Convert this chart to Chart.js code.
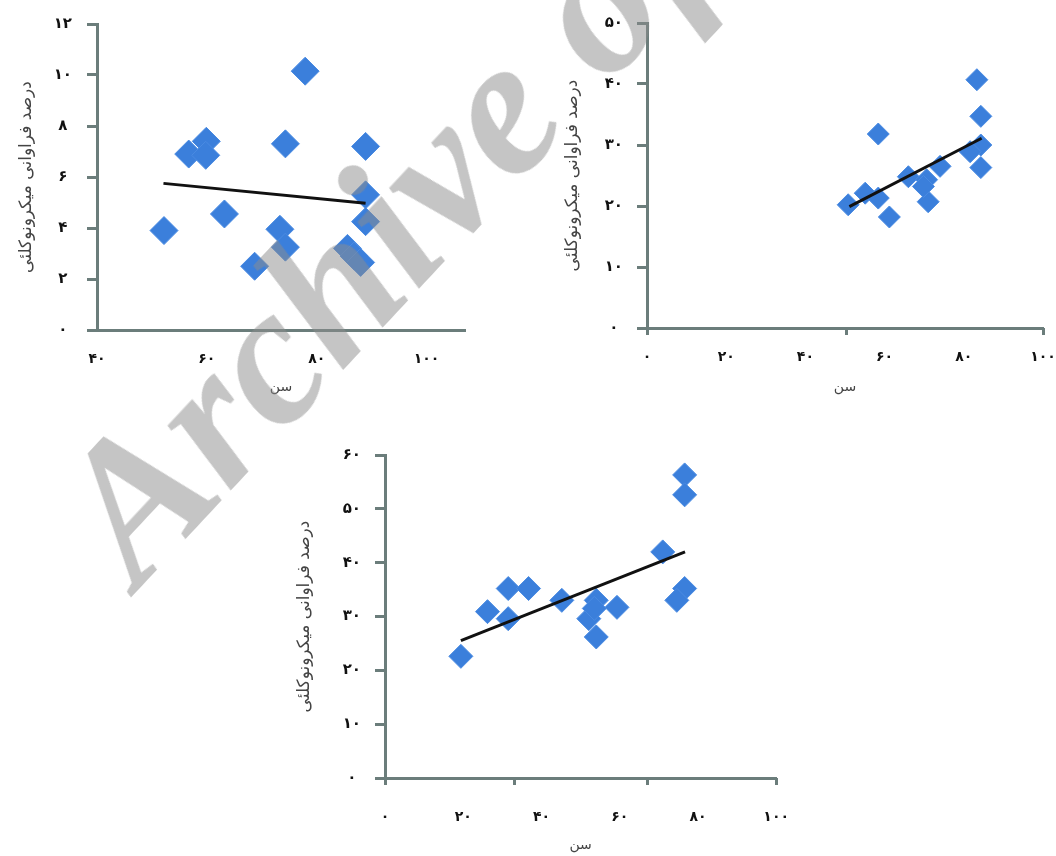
<!DOCTYPE html>
<html>
<head>
<meta charset="utf-8">
<script src="https://cdn.jsdelivr.net/npm/chart.js@4.4.1/dist/chart.umd.min.js"></script>
<style>
html, body { margin: 0; padding: 0; background: #fff; width: 1056px; height: 856px; overflow: hidden; position: relative; }
canvas { position: absolute; }
#wm {
    position: absolute; left: 138px; top: 425px;
    font: italic bold 198px 'Liberation Serif', serif; line-height: 198px;
    color: rgba(140, 140, 140, 0.5); white-space: nowrap;
    transform-origin: 0 165px; transform: rotate(-47deg);
    pointer-events: none;
}
</style>
</head>
<body>
<canvas id="chartA" width="480" height="400" style="left:0;top:0;width:480px;height:400px"></canvas>
<canvas id="chartB" width="540" height="400" style="left:540px;top:0;width:540px;height:400px"></canvas>
<canvas id="chartC" width="540" height="426" style="left:280px;top:430px;width:540px;height:426px"></canvas>
<div id="wm">Archive of SID</div>
<script>
// Titres des axes
const yTitle = 'درصد فراوانی میکرونوکلئی';
const xTitle = 'سن';
const faDigits = ['۰', '۱', '۲', '۳', '۴', '۵', '۶', '۷', '۸', '۹'];

// Graphique A (haut gauche)
const ageA = [52.2, 56.7, 59.9, 59.8, 63.2, 68.7, 74.3, 73.3, 74.3, 77.9, 88.9, 88.9, 88.9, 85.6, 86.8, 88.0];
const freqA = [3.9, 6.9, 7.4, 6.85, 4.55, 2.5, 7.3, 3.95, 3.25, 10.15, 7.2, 5.3, 4.25, 3.2, 2.9, 2.65];
const trendAgeA = [52.1, 88.9];
const trendFreqA = [5.75, 4.97];
const xTicksA = [40, 100];
const yTicksA = [0, 12, 2];
const tickMarksA = [];

// Graphique B (haut droite)
const ageB = [50.8, 55.1, 58.4, 58.4, 61.2, 66.0, 70.6, 74.0, 71.0, 69.8, 83.3, 84.3, 84.3, 81.6, 84.3];
const freqB = [20.2, 22.1, 21.3, 31.8, 18.2, 24.8, 24.3, 26.5, 20.7, 23.2, 40.7, 34.7, 30.0, 28.9, 26.3];
const trendAgeB = [51.1, 84.5];
const trendFreqB = [19.9, 31.1];
const xTicksB = [0, 100];
const yTicksB = [0, 50, 10];
const tickMarksB = [0, 50.5, 100];

// Graphique C (bas)
const ageC = [19.4, 26.2, 31.5, 31.5, 36.7, 45.2, 54.0, 52.1, 54.0, 59.3, 71.0, 76.6, 76.6, 76.6, 74.6, 53.5];
const freqC = [22.6, 30.9, 35.2, 29.6, 35.2, 33.0, 33.0, 29.6, 26.2, 31.7, 42.0, 56.3, 52.6, 35.2, 33.0, 31.5];
const trendAgeC = [19.4, 76.7];
const trendFreqC = [25.5, 42.0];
const xTicksC = [0, 100];
const yTicksC = [0, 60, 10];
const tickMarksC = [0, 33, 67, 100];

const colors = {
    point: '#3b7fdb',
    pointEdge: '#4a8be2',
    trend: '#111111',
    axis: '#6b7d7b',
    label: '#111111',
    title: '#444444'
};
const fontFamily = "'DejaVu Sans', sans-serif";

function fa(v) {
    return String(v).replace(/\d/g, d => faDigits[d]);
}

function toPoints(xs, ys) {
    return xs.map((x, i) => ({ x: x, y: ys[i] }));
}

function makeChart(id, o) {
    return new Chart(document.getElementById(id), {
        type: 'scatter',
        data: {
            datasets: [{
                // droite de tendance, dessinée au-dessus
                data: toPoints(o.trendX, o.trendY),
                showLine: true,
                borderColor: colors.trend,
                borderWidth: 3,
                pointRadius: 0,
                pointHoverRadius: 0
            }, {
                data: toPoints(o.xs, o.ys),
                pointStyle: 'rectRot',
                pointRadius: o.radius,
                pointHoverRadius: o.radius,
                backgroundColor: colors.point,
                borderColor: colors.pointEdge,
                borderWidth: 1
            }]
        },
        options: {
            responsive: false,
            animation: false,
            layout: { padding: { top: o.top, right: o.right, left: 0, bottom: 0 } },
            plugins: { legend: { display: false }, tooltip: { enabled: false } },
            events: [],
            scales: {
                xm: {
                    type: 'linear',
                    position: 'bottom',
                    weight: -1,
                    min: o.xRange[0],
                    max: o.xMax,
                    afterBuildTicks: s => { s.ticks = o.marks.map(v => ({ value: v })); },
                    ticks: { display: false },
                    grid: { drawOnChartArea: false, tickLength: 7, color: colors.axis, lineWidth: 3 },
                    border: { display: false },
                    afterFit: s => { s.height = 0; }
                },
                x: {
                    type: 'linear',
                    position: 'bottom',
                    min: o.xRange[0],
                    max: o.xMax,
                    ticks: {
                        stepSize: 20,
                        includeBounds: false,
                        callback: v => (v <= o.xRange[1] ? fa(v) : ''),
                        font: { family: fontFamily, size: 14, weight: 'bold' },
                        color: colors.label,
                        padding: o.xLabelPad,
                        maxRotation: 0
                    },
                    grid: { display: false, drawTicks: false },
                    border: { color: colors.axis, width: 3 },
                    title: {
                        display: true,
                        text: xTitle,
                        font: { family: fontFamily, size: 14 },
                        color: colors.title,
                        padding: { top: 0, bottom: o.xTitlePad }
                    },
                    afterFit: s => { s.height = o.xHeight; }
                },
                y: {
                    min: o.yTicks[0],
                    max: o.yTicks[1],
                    ticks: {
                        stepSize: o.yTicks[2],
                        callback: v => fa(v),
                        font: { family: fontFamily, size: 15, weight: 'bold' },
                        color: colors.label,
                        padding: o.yLabelPad,
                        crossAlign: 'center'
                    },
                    grid: { drawOnChartArea: false, tickLength: 10, color: colors.axis, lineWidth: 3 },
                    border: { color: colors.axis, width: 3 },
                    title: {
                        display: true,
                        text: yTitle,
                        font: { family: fontFamily, size: 17 },
                        color: colors.title,
                        padding: { top: o.yTitlePad, bottom: 0 }
                    },
                    afterFit: s => { s.width = o.yWidth; }
                }
            }
        }
    });
}

makeChart('chartA', {
    xs: ageA, ys: freqA, trendX: trendAgeA, trendY: trendFreqA,
    xRange: xTicksA, xMax: 107, yTicks: yTicksA, marks: tickMarksA,
    radius: 14, top: 20, right: 10, yWidth: 97, xHeight: 70,
    xLabelPad: 21, xTitlePad: 4, yLabelPad: 15, yTitlePad: 16
});

makeChart('chartB', {
    xs: ageB, ys: freqB, trendX: trendAgeB, trendY: trendFreqB,
    xRange: xTicksB, xMax: 100, yTicks: yTicksB, marks: tickMarksB,
    radius: 11, top: 23, right: 37, yWidth: 107, xHeight: 72,
    xLabelPad: 21, xTitlePad: 4, yLabelPad: 14, yTitlePad: 22
});

makeChart('chartC', {
    xs: ageC, ys: freqC, trendX: trendAgeC, trendY: trendFreqC,
    xRange: xTicksC, xMax: 100, yTicks: yTicksC, marks: tickMarksC,
    radius: 12, top: 25, right: 22, yWidth: 105, xHeight: 78,
    xLabelPad: 31, xTitlePad: 2, yLabelPad: 14, yTitlePad: 14
});
</script>
</body>
</html>
